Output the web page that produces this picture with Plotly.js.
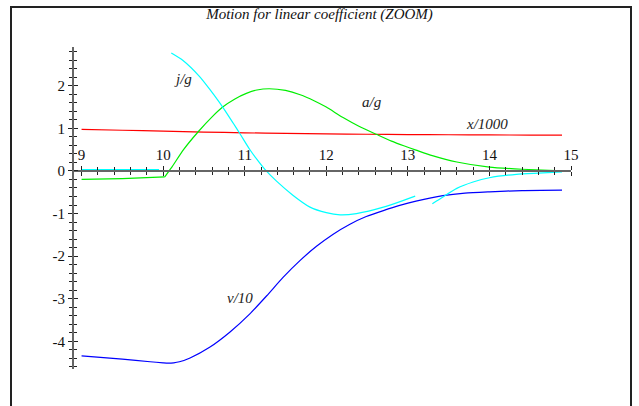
<!DOCTYPE html>
<html>
<head>
<meta charset="utf-8">
<script src="https://cdn.plot.ly/plotly-3.0.1.min.js"></script>
<style>
  html, body { margin: 0; padding: 0; background: #fff; }
  #frame { position: absolute; left: 10px; top: 6px; width: 622px; height: 420px; border: 2px solid #222; box-sizing: border-box; }
  #chart { position: absolute; left: 0; top: 0; width: 639px; height: 406px; }
</style>
</head>
<body>
<div id="frame"></div>
<div id="chart"></div>
<script>
// ---- data ----
const titleText = "Motion for linear coefficient (ZOOM)";

const xTickVals = [9, 10, 11, 12, 13, 14, 15];
const yTickVals = [-4, -3, -2, -1, 0, 1, 2];
const yTickText = ["-4", "-3", "-2", "-1", "0", "1", "2"];

// x/1000 (red)
const posT = [9, 9.5, 10, 10.5, 11, 11.5, 12, 12.5, 13, 13.5, 14, 14.5, 14.89];
const posY = [0.975, 0.955, 0.935, 0.912, 0.895, 0.88, 0.87, 0.862, 0.855, 0.85, 0.845, 0.842, 0.84];

// v/10 (blue)
const velT = [9, 9.5, 9.84, 10.0, 10.06, 10.13, 10.2, 10.33, 10.57, 10.82, 11.06, 11.27, 11.47, 11.68, 11.88, 12.08, 12.29, 12.49, 12.7, 12.9, 13.1, 13.43, 13.7, 14, 14.4, 14.89];
const velY = [-4.34, -4.42, -4.48, -4.505, -4.512, -4.505, -4.48, -4.39, -4.14, -3.78, -3.36, -2.93, -2.5, -2.10, -1.77, -1.49, -1.25, -1.07, -0.93, -0.81, -0.71, -0.58, -0.52, -0.49, -0.46, -0.45];

// a/g (green): flat part, then smooth rise and fall
const accT1 = [9, 9.5, 10.02];
const accY1 = [-0.2, -0.18, -0.14];
const accT2 = [10.02, 10.1, 10.25, 10.43, 10.6, 10.73, 10.88, 11.02, 11.15, 11.3, 11.5, 11.68, 11.85, 12, 12.2, 12.4, 12.62, 12.8, 12.95, 13.1, 13.3, 13.6, 14, 14.4, 14.89];
const accY2 = [-0.14, 0.07, 0.5, 0.92, 1.27, 1.5, 1.69, 1.82, 1.9, 1.93, 1.89, 1.79, 1.65, 1.5, 1.26, 1.05, 0.855, 0.70, 0.59, 0.49, 0.36, 0.21, 0.09, 0.04, 0.0];

// j/g (cyan), three pieces
const jerkT1 = [9, 9.95];
const jerkY1 = [0.03, 0.03];
const jerkT2 = [10.1, 10.24, 10.45, 10.57, 10.73, 10.86, 10.94, 11.06, 11.15, 11.25, 11.39, 11.59, 11.8, 12.0, 12.17, 12.37, 12.7, 13.09];
const jerkY2 = [2.77, 2.6, 2.21, 1.92, 1.5, 1.12, 0.88, 0.51, 0.27, 0.03, -0.24, -0.57, -0.85, -0.98, -1.03, -1.0, -0.85, -0.59];
const jerkT3 = [13.3, 13.43, 13.6, 13.8, 14, 14.33, 14.6, 14.89];
const jerkY3 = [-0.77, -0.61, -0.41, -0.26, -0.16, -0.08, -0.05, -0.02];

const labels = [
  {text: "j/g", x: 10.24, y: 2.15},
  {text: "a/g", x: 12.56, y: 1.61},
  {text: "x/1000", x: 13.97, y: 1.10},
  {text: "v/10", x: 10.94, y: -2.99}
];

// ---- chart ----
const xRange = [8.895, 15.0];
const yRange = [-4.65, 2.91];
const xAxisPos = (0 - yRange[0]) / (yRange[1] - yRange[0]);
const serif = "Liberation Serif";

const lw = 1.2;
const sp = {shape: "spline", smoothing: 0.6};
const traces = [
  {x: posT, y: posY, mode: "lines", line: Object.assign({color: "#ff0000", width: lw}, sp)},
  {x: velT, y: velY, mode: "lines", line: Object.assign({color: "#0000ff", width: lw}, sp)},
  {x: accT1, y: accY1, mode: "lines", line: {color: "#00ee00", width: lw}},
  {x: accT2, y: accY2, mode: "lines", line: Object.assign({color: "#00ee00", width: lw}, sp)},
  {x: jerkT1, y: jerkY1, mode: "lines", line: {color: "#00ffff", width: lw}},
  {x: jerkT2, y: jerkY2, mode: "lines", line: Object.assign({color: "#00ffff", width: lw}, sp)},
  {x: jerkT3, y: jerkY3, mode: "lines", line: Object.assign({color: "#00ffff", width: lw}, sp)},
  {x: [], y: [], xaxis: "x2", yaxis: "y2", mode: "lines"}
];

const tickCol = "#222";
const minorX = {tickmode: "linear", tick0: 9, dtick: 0.2, ticks: "outside", ticklen: 3, tickcolor: tickCol, tickwidth: 1};
const minorY = {tickmode: "linear", tick0: 0, dtick: 0.2, ticks: "outside", ticklen: 3, tickcolor: tickCol, tickwidth: 1};

const layout = {
  width: 639, height: 406,
  margin: {l: 73, r: 68, t: 47, b: 37, pad: 0},
  paper_bgcolor: "rgba(0,0,0,0)",
  plot_bgcolor: "rgba(0,0,0,0)",
  showlegend: false,
  font: {family: serif, color: "#111"},
  title: {
    text: "<i>" + titleText + "</i>",
    font: {family: serif, size: 15, color: "#111"},
    xref: "container", x: 0.5, xanchor: "center",
    yref: "container", y: 1 - 14 / 406, yanchor: "middle"
  },
  xaxis: {
    range: xRange, anchor: "free", position: xAxisPos, side: "top",
    showline: true, linecolor: "#666", linewidth: 2,
    showgrid: false, zeroline: false,
    tickmode: "array", tickvals: xTickVals,
    ticks: "outside", ticklen: 4, tickcolor: tickCol, tickwidth: 1,
    minor: minorX,
    tickfont: {family: serif, size: 15, color: "#111"}
  },
  xaxis2: {
    range: xRange, overlaying: "x", anchor: "free", position: xAxisPos, side: "bottom",
    showline: false, showgrid: false, zeroline: false, showticklabels: false,
    tickmode: "array", tickvals: xTickVals,
    ticks: "outside", ticklen: 4, tickcolor: tickCol, tickwidth: 1,
    minor: minorX
  },
  yaxis: {
    range: yRange, anchor: "free", position: 0, side: "left",
    showline: true, linecolor: "#666", linewidth: 2,
    showgrid: false, zeroline: false,
    tickmode: "array", tickvals: yTickVals, ticktext: yTickText,
    ticks: "outside", ticklen: 4, tickcolor: tickCol, tickwidth: 1,
    minor: minorY,
    tickfont: {family: serif, size: 15, color: "#111"}
  },
  yaxis2: {
    range: yRange, overlaying: "y", anchor: "free", position: 0, side: "right",
    showline: false, showgrid: false, zeroline: false, showticklabels: false,
    tickmode: "array", tickvals: yTickVals,
    ticks: "outside", ticklen: 4, tickcolor: tickCol, tickwidth: 1,
    minor: minorY
  },
  annotations: labels.map(l => ({
    text: "<i>" + l.text + "</i>", x: l.x, y: l.y, xref: "x", yref: "y",
    showarrow: false, font: {family: serif, size: 15, color: "#222"}
  }))
};

Plotly.newPlot("chart", traces, layout, {displayModeBar: false, staticPlot: true});
</script>
</body>
</html>
